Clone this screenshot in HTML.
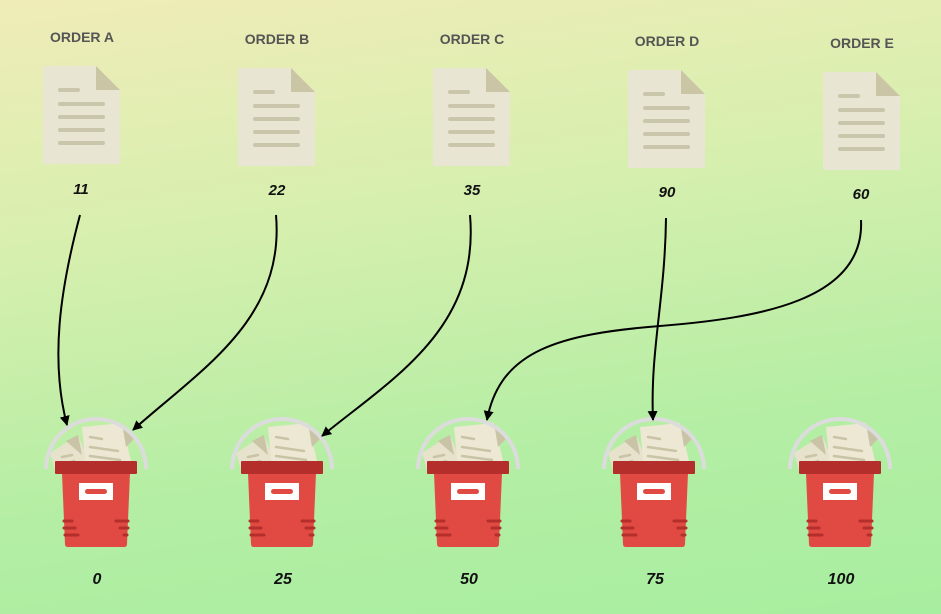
<!DOCTYPE html>
<html><head><meta charset="utf-8"><style>
html,body{margin:0;padding:0}
body{width:941px;height:614px;overflow:hidden;background:linear-gradient(172deg,#f0ecb8 0%,#d6efae 35%,#b4eea4 70%,#a8eea0 100%);}
svg{display:block}
text{font-family:"Comic Sans MS","Liberation Sans",sans-serif;}
</style></head><body>
<svg width="941" height="614" viewBox="0 0 941 614">
<defs>
<g id="doc">
<path d="M0,0 H53 L77,24 V98 H0 Z" fill="#e8e5d3"/>
<path d="M53,0 L77,24 H53 Z" fill="#c9c5a5"/>
<g stroke="#cac6ab" stroke-width="4" stroke-linecap="round">
<line x1="17" y1="24" x2="35" y2="24"/>
<line x1="17" y1="38" x2="60" y2="38"/>
<line x1="17" y1="51" x2="60" y2="51"/>
<line x1="17" y1="64" x2="60" y2="64"/>
<line x1="17" y1="77" x2="60" y2="77"/>
</g>
</g>
<g id="bucket">
<polygon points="-46,-8 -18,-26 -4,8 -40,12" fill="#e6e2cc"/>
<polygon points="-30,-20 -18,-26 -14,-6" fill="#c9c4a6"/>
<polygon points="-14,-34 26,-38 36,4 -10,8" fill="#ece8d4"/>
<polygon points="26,-38 38,-22 30,-14" fill="#c9c4a6"/>
<g stroke="#c9c4a6" stroke-width="2.5" stroke-linecap="round">
<line x1="-6" y1="-24" x2="6" y2="-22"/>
<line x1="-6" y1="-14" x2="22" y2="-10"/>
<line x1="-6" y1="-5" x2="24" y2="-1"/>
<line x1="-34" y1="-4" x2="-24" y2="-6"/>
<line x1="-34" y1="4" x2="-22" y2="0"/>
</g>
<path d="M-50,8 A50,50 0 0 1 50,8" fill="none" stroke="#dcdcdc" stroke-width="4"/>
<path d="M-34,12 H34 L31,83 Q31,86 28,86 H-28 Q-31,86 -31,83 Z" fill="#e04a43"/>
<rect x="-41" y="0" width="82" height="13" rx="1" fill="#b42f2b"/>
<rect x="-17" y="22" width="34" height="17" fill="#fff"/>
<rect x="-11" y="28" width="22" height="5" rx="2.5" fill="#e04a43"/>
<g stroke="#b42f2b" stroke-width="3" stroke-linecap="round">
<line x1="-32" y1="60" x2="-24" y2="60"/>
<line x1="-32" y1="67" x2="-21" y2="67"/>
<line x1="-31" y1="74" x2="-18" y2="74"/>
<line x1="20" y1="60" x2="32" y2="60"/>
<line x1="24" y1="67" x2="32" y2="67"/>
<line x1="28" y1="74" x2="31" y2="74"/>
</g>
</g>
<marker id="ah" viewBox="0 0 10 10" refX="9" refY="5" markerWidth="10" markerHeight="10" markerUnits="userSpaceOnUse" orient="auto">
<path d="M0,0 L10,5 L0,10 Z" fill="#000"/>
</marker>
</defs>

<g font-size="14" font-weight="bold" fill="#555" text-anchor="middle">
<text x="82" y="42">ORDER A</text>
<text x="277" y="44">ORDER B</text>
<text x="472" y="44">ORDER C</text>
<text x="667" y="46">ORDER D</text>
<text x="862" y="48">ORDER E</text>
</g>
<use href="#doc" x="43" y="66"/>
<use href="#doc" x="238" y="68"/>
<use href="#doc" x="433" y="68"/>
<use href="#doc" x="628" y="70"/>
<use href="#doc" x="823" y="72"/>

<g font-size="15" font-weight="bold" font-style="italic" fill="#111" text-anchor="middle">
<text x="81" y="194">11</text>
<text x="277" y="195">22</text>
<text x="472" y="195">35</text>
<text x="667" y="197">90</text>
<text x="861" y="199">60</text>
</g>

<use href="#bucket" x="96" y="461"/>
<use href="#bucket" x="282" y="461"/>
<use href="#bucket" x="468" y="461"/>
<use href="#bucket" x="654" y="461"/>
<use href="#bucket" x="840" y="461"/>

<g fill="none" stroke="#000" stroke-width="2" marker-end="url(#ah)">
<path d="M80,215 C60,290 50,360 67,425"/>
<path d="M276,215 C285,320 200,370 133,430"/>
<path d="M470,215 C480,330 390,380 322,436"/>
<path d="M666,218 C665,300 650,350 653,420"/>
<path d="M861,220 C865,300 760,318 660,326 C560,334 500,350 487,420"/>
</g>

<g font-size="16" font-weight="bold" font-style="italic" fill="#111" text-anchor="middle">
<text x="97" y="584">0</text>
<text x="283" y="584">25</text>
<text x="469" y="584">50</text>
<text x="655" y="584">75</text>
<text x="841" y="584">100</text>
</g>
</svg>
</body></html>
